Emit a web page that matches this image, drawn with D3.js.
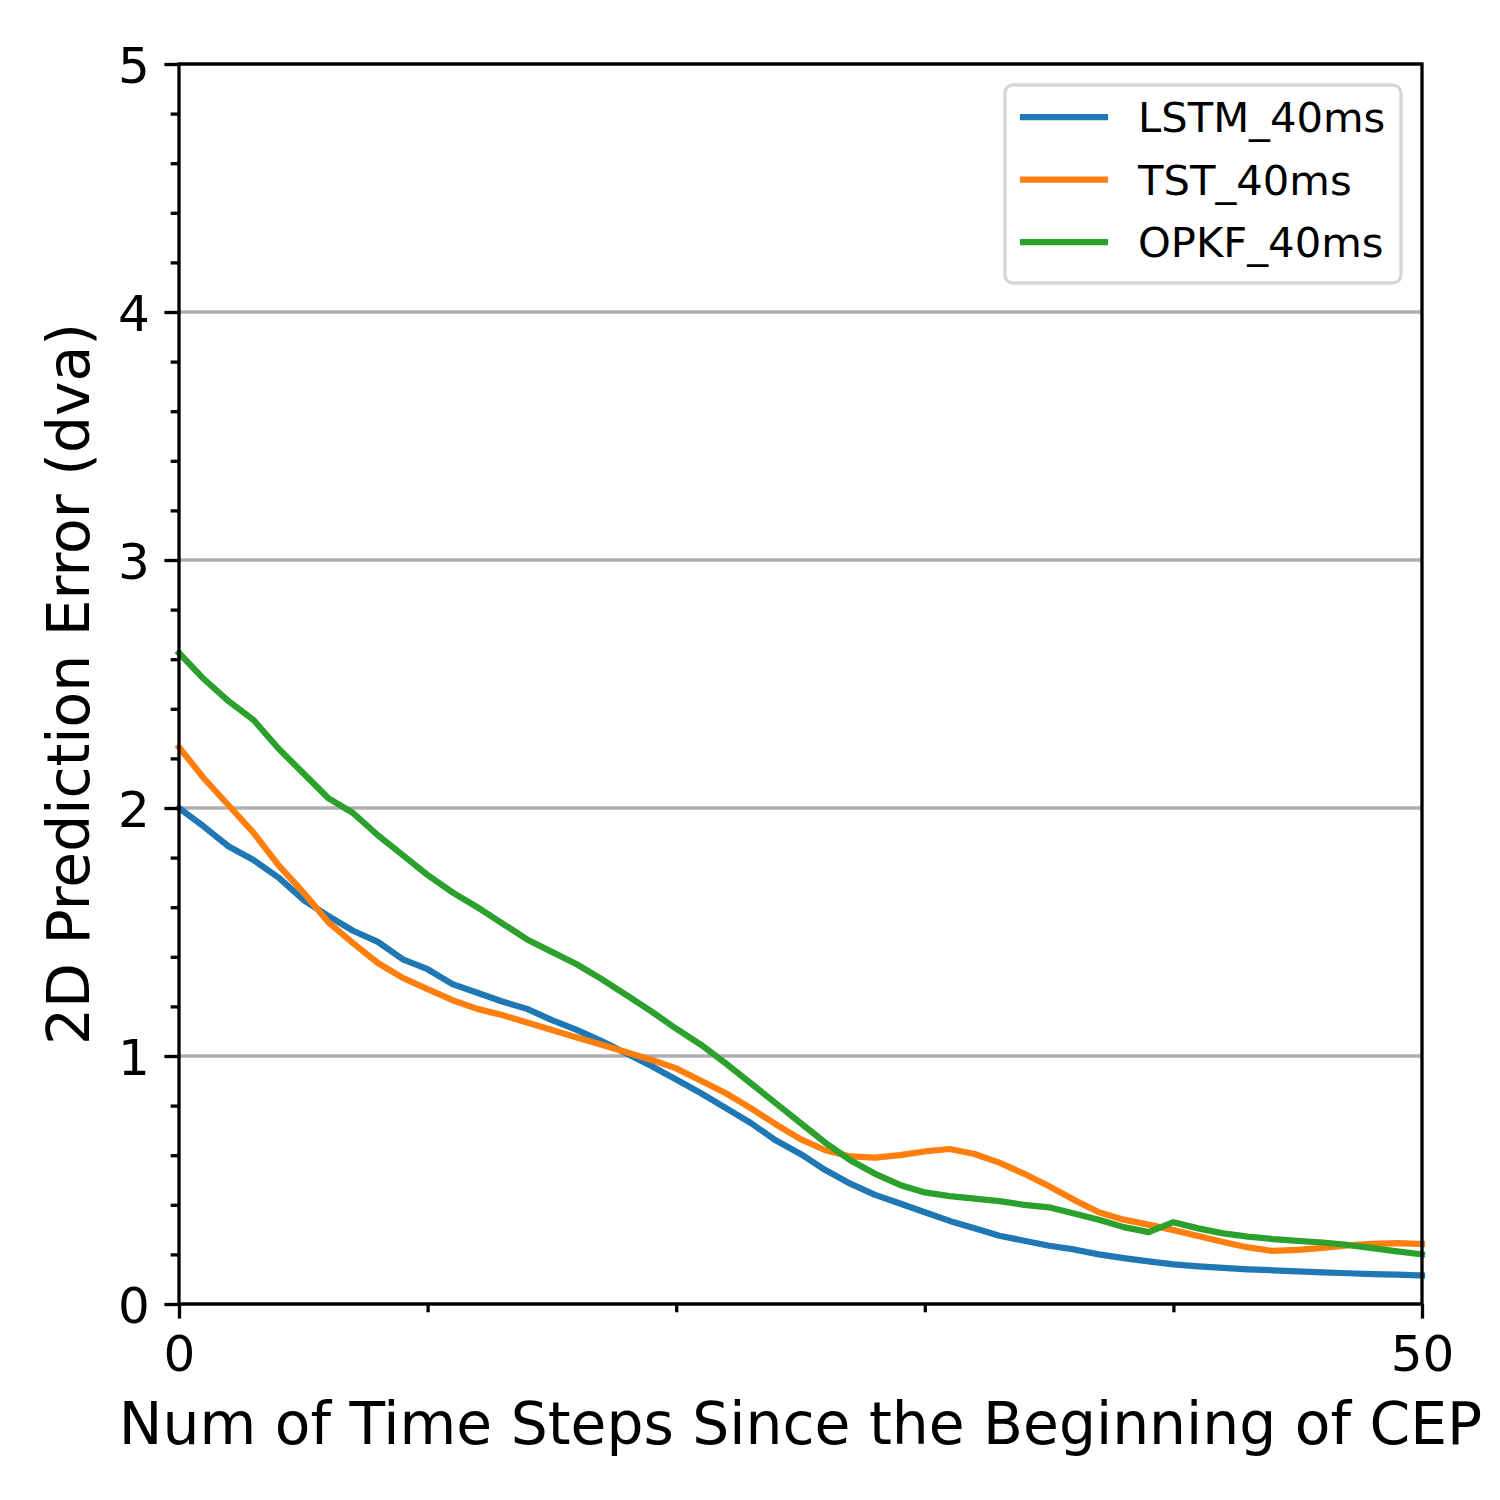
<!DOCTYPE html>
<html>
<head>
<meta charset="utf-8">
<script src="https://cdn.jsdelivr.net/npm/d3@7"></script>
<style>
  body { margin: 0; background: #ffffff; }
  svg { font-family: "DejaVu Sans", sans-serif; }
</style>
</head>
<body>
<div id="viz"></div>
<script>
// data, one value per time step 0..50
var steps = d3.range(0, 51)

var lstm = [2.00, 1.925, 1.845, 1.79, 1.72, 1.63, 1.565, 1.505, 1.46, 1.39,
            1.35, 1.29, 1.255, 1.22, 1.19, 1.145, 1.105, 1.06, 1.01, 0.96,
            0.905, 0.85, 0.79, 0.73, 0.66, 0.605, 0.54, 0.485, 0.44, 0.405,
            0.37, 0.335, 0.305, 0.275, 0.255, 0.235, 0.22, 0.20, 0.185, 0.172,
            0.16, 0.152, 0.146, 0.14, 0.136, 0.132, 0.128, 0.124, 0.12, 0.118, 0.115]

var tst = [2.245, 2.12, 2.01, 1.90, 1.77, 1.66, 1.54, 1.455, 1.375, 1.315,
           1.27, 1.225, 1.19, 1.165, 1.135, 1.105, 1.075, 1.045, 1.015, 0.985,
           0.95, 0.90, 0.85, 0.79, 0.725, 0.665, 0.62, 0.595, 0.59, 0.60,
           0.615, 0.625, 0.605, 0.57, 0.525, 0.475, 0.42, 0.37, 0.34, 0.32,
           0.298, 0.274, 0.25, 0.228, 0.214, 0.218, 0.226, 0.236, 0.242, 0.245, 0.242]

var opkf = [2.625, 2.52, 2.43, 2.355, 2.24, 2.14, 2.04, 1.98, 1.89, 1.81,
            1.73, 1.66, 1.60, 1.535, 1.47, 1.42, 1.37, 1.31, 1.245, 1.18,
            1.11, 1.045, 0.97, 0.89, 0.81, 0.73, 0.65, 0.58, 0.525, 0.48,
            0.45, 0.435, 0.425, 0.415, 0.40, 0.39, 0.365, 0.34, 0.31, 0.29,
            0.33, 0.305, 0.285, 0.272, 0.262, 0.255, 0.248, 0.238, 0.225, 0.212, 0.20]

var seriesNames = ["LSTM_40ms", "TST_40ms", "OPKF_40ms"]
var seriesColors = ["#1f77b4", "#ff7f0e", "#2ca02c"]
var seriesValues = [lstm, tst, opkf]

var xTicks = [0, 10, 20, 30, 40, 50]
var xTickLabels = {0: "0", 50: "50"}
var yTicks = [0, 1, 2, 3, 4, 5]
var yMinorTicks = d3.range(0, 5.01, 0.2)

var xTitle = "Num of Time Steps Since the Beginning of CEP"
var yTitle = "2D Prediction Error (dva)"

// layout
var margin = {top: 64, right: 78, bottom: 196, left: 179}
var width = 1243
var height = 1240

var xScale = d3.scaleLinear().domain([0, 50]).range([0, width])
var yScale = d3.scaleLinear().domain([0, 5]).range([height, 0])

var svg = d3.select("#viz")
            .append("svg")
              .attr("width", 1500)
              .attr("height", 1500)
            .append("g")
              .attr("transform", "translate(" + margin.left + "," + margin.top + ")")

// horizontal grid at major y ticks
svg.append("g")
  .selectAll("line")
  .data(yTicks)
  .enter()
  .append("line")
  .attr("x1", 0)
  .attr("x2", width)
  .attr("y1", function(d) { return yScale(d) })
  .attr("y2", function(d) { return yScale(d) })
  .attr("stroke", "#b0b0b0")
  .attr("stroke-width", 3.3)

// the lines
var line = d3.line()
  .x(function(d) { return xScale(d[0]) })
  .y(function(d) { return yScale(d[1]) })

seriesValues.forEach(function(vals, i) {
  svg.append("path")
    .datum(steps.map(function(s) { return [s, vals[s]] }))
    .attr("d", line)
    .attr("fill", "none")
    .attr("stroke", seriesColors[i])
    .attr("stroke-width", 6.25)
    .attr("stroke-linejoin", "round")
    .attr("stroke-linecap", "square")
})

// axes
var tickFont = "50px"

var xAxis = svg.append("g")
  .attr("transform", "translate(0," + height + ")")
  .call(d3.axisBottom(xScale)
          .tickValues(xTicks)
          .tickSizeOuter(0)
          .tickFormat(function(d) { return xTickLabels[d] || "" }))
xAxis.select(".domain").remove()
xAxis.selectAll(".tick line")
  .attr("stroke", "#000")
  .attr("stroke-width", 3.3)
  .attr("y2", function(d) { return xTickLabels[d] ? 14.6 : 8.3 })
xAxis.selectAll(".tick text")
  .attr("y", 29.2)
  .attr("dy", "0.76em")
  .attr("font-size", tickFont)
  .attr("font-family", "DejaVu Sans")
  .attr("fill", "#000")

var yMinor = svg.append("g")
  .call(d3.axisLeft(yScale)
          .tickValues(yMinorTicks.filter(function(d) { return Math.abs(d - Math.round(d)) > 1e-6 }))
          .tickSize(8.3)
          .tickSizeOuter(0)
          .tickFormat(""))
yMinor.select(".domain").remove()
yMinor.selectAll(".tick line").attr("stroke", "#000").attr("stroke-width", 3.3)

var yAxis = svg.append("g")
  .call(d3.axisLeft(yScale)
          .tickValues(yTicks)
          .tickSize(14.6)
          .tickSizeOuter(0)
          .tickFormat(d3.format("d")))
yAxis.select(".domain").remove()
yAxis.selectAll(".tick line").attr("stroke", "#000").attr("stroke-width", 3.3)
yAxis.selectAll(".tick text")
  .attr("x", -29.2)
  .attr("dy", "0.36em")
  .attr("font-size", tickFont)
  .attr("font-family", "DejaVu Sans")
  .attr("fill", "#000")

// frame
svg.append("rect")
  .attr("x", 0)
  .attr("y", 0)
  .attr("width", width)
  .attr("height", height)
  .attr("fill", "none")
  .attr("stroke", "#000")
  .attr("stroke-width", 3.3)

// axis titles
svg.append("text")
  .attr("x", width / 2)
  .attr("y", height + 140)
  .attr("text-anchor", "middle")
  .attr("font-size", "58.3px")
  .text(xTitle)

svg.append("text")
  .attr("transform", "translate(" + (-90) + "," + (height / 2) + ") rotate(-90)")
  .attr("text-anchor", "middle")
  .attr("font-size", "58.3px")
  .text(yTitle)

// legend
var legend = svg.append("g")
  .attr("transform", "translate(" + (1005 - margin.left) + "," + (85 - margin.top) + ")")

legend.append("rect")
  .attr("width", 396)
  .attr("height", 198)
  .attr("rx", 8)
  .attr("fill", "#ffffff")
  .attr("fill-opacity", 0.8)
  .attr("stroke", "#d6d6d6")
  .attr("stroke-width", 3.3)

seriesNames.forEach(function(name, i) {
  var ly = 32 + i * 62.5
  legend.append("line")
    .attr("x1", 15)
    .attr("x2", 103)
    .attr("y1", ly)
    .attr("y2", ly)
    .attr("stroke", seriesColors[i])
    .attr("stroke-width", 6.25)
  legend.append("text")
    .attr("x", 133)
    .attr("y", ly)
    .attr("dy", "0.36em")
    .attr("font-size", "41.7px")
    .text(name)
})
</script>
</body>
</html>
